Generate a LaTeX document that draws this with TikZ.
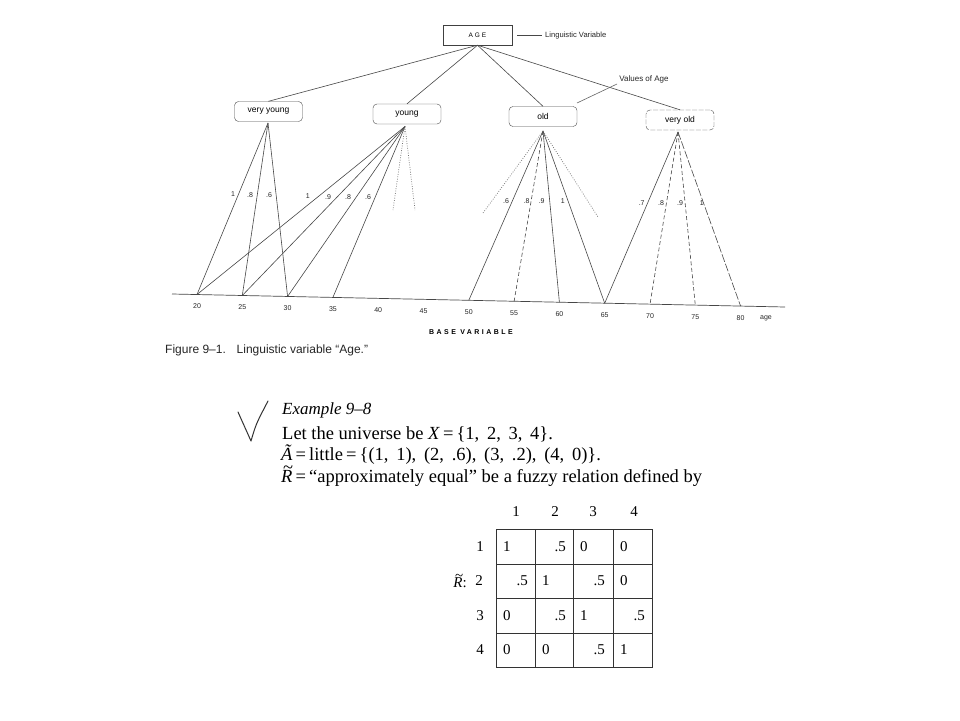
\documentclass[tikz,border=0pt]{standalone}
\usepackage{fontspec}
\setmainfont{Liberation Serif}
\setsansfont{Liberation Sans}
\newcommand\tildeit[1]{\leavevmode\setbox0\hbox{\textit{#1}}\rlap{\hbox to \wd0{\hss\hspace{0.15em}\raisebox{0.52em}{\textasciitilde}\hss}}\box0}
\begin{document}
\begin{tikzpicture}[x=1pt,y=-1pt,
  box/.style={draw=black!70, rounded corners=4pt, minimum width=68pt, minimum height=20pt, inner sep=0pt, font=\sffamily\fontsize{8.5}{9}\selectfont},
  ln/.style={draw=black!72, line width=0.6pt},
  dsh/.style={ln, dash pattern=on 4pt off 2.5pt},
  dotl/.style={draw=black!55, line width=0.7pt, dash pattern=on 0.8pt off 1.6pt},
  lbl/.style={font=\sffamily\fontsize{7}{8}\selectfont, inner sep=0pt, text=black!85},
  tick/.style={font=\sffamily\fontsize{7}{8}\selectfont, inner sep=0pt, text=black!85},
  ser/.style={font=\fontsize{18.5}{20}\selectfont, inner sep=0pt, anchor=west},
  cell/.style={font=\fontsize{15}{17}\selectfont, inner sep=0pt}
]
\useasboundingbox (0,0) rectangle (960,720);
\fill[white] (0,0) rectangle (960,720);

% ---- top of tree
\node[draw=black!75, minimum width=69pt, minimum height=20pt, inner sep=0pt,
      font=\sffamily\fontsize{6.5}{7}\selectfont\addfontfeature{LetterSpace=30}] (age) at (477.5,35) {AGE};
\coordinate (lvs) at (517,35.7);
\coordinate (lve) at (541.5,35.7);
\draw[ln] (lvs) -- (lve);
\node[lbl, anchor=west, font=\sffamily\fontsize{7.6}{8}\selectfont] (lv) at (545,36) {Linguistic Variable};

\node[box] (vy) at (268.5,111.5) {very young};
\node[box] (yg) at (407,114) {young};
\node[box] (od) at (543,116.5) {old};
\node[box, dash pattern=on 5pt off 1.5pt] (vo) at (680,120) {very old};

\draw[ln] (age.south) -- (vy.north);
\draw[ln] (age.south) -- (yg.north);
\draw[ln] (age.south) -- (od.north);
\draw[ln] (age.south) -- (vo.north);

\node[lbl, font=\sffamily\fontsize{8}{9}\selectfont] (voa) at (644,79) {Values of Age};
\coordinate (vq) at (617,84);
\coordinate (vp) at (577,103);
\draw[ln, black!60] (vq) -- (vp);

% ---- base axis
\coordinate (ax0) at (172,294);
\coordinate (ax1) at (785,307);
\draw[ln, line width=0.7pt] (ax0) -- (ax1);
\foreach \v [count=\i from 0] in {20,25,...,80} {
  \coordinate (t\v) at ({197+45.3*\i},{294.5+0.969*\i});
  \node[tick] (l\v) at ({197+45.3*\i},{306+0.969*\i}) {\v};
}
\node[tick, anchor=west] (lage) at (760,318) {age};
\node[font=\sffamily\bfseries\fontsize{7}{8}\selectfont\addfontfeature{LetterSpace=35}, inner sep=0pt] (bv) at (471,332) {BASE VARIABLE};
\node[font=\sffamily\fontsize{12}{14}\selectfont, anchor=west, inner sep=0pt, text=black!85] (cap) at (165,350) {Figure 9–1.\hspace{0.9em}Linguistic variable “Age.”};

% ---- apexes
\coordinate (avy) at (268,123);
\coordinate (ayg) at (405,126.5);
\coordinate (aod) at (543,131);
\coordinate (avo) at (678,132);

% very young
\draw[ln] (avy) -- (t20);
\draw[ln] (avy) -- (t25);
\draw[ln] (avy) -- (t30);
\node[lbl] (vy1) at (233,194) {1};
\node[lbl] (vy2) at (250,195) {.8};
\node[lbl] (vy3) at (269,195) {.6};

% young
\draw[ln] (ayg) -- (t20);
\draw[ln] (ayg) -- (t25);
\draw[ln] (ayg) -- (t30);
\draw[ln] (ayg) -- (t35);
\coordinate (yd1) at (393,210);
\coordinate (yd2) at (415,210);
\draw[dotl] (ayg) -- (yd1);
\draw[dotl] (ayg) -- (yd2);
\node[lbl] (yg1) at (307.7,196) {1};
\node[lbl] (yg2) at (328,196.7) {.9};
\node[lbl] (yg3) at (348,197) {.8};
\node[lbl] (yg4) at (368,197) {.6};

% old
\draw[ln] (aod) -- (t50);
\draw[dsh] (aod) -- (t55);
\draw[ln] (aod) -- (t60);
\draw[ln] (aod) -- (t65);
\coordinate (od1) at (483,213);
\coordinate (od2) at (598,217);
\draw[dotl] (aod) -- (od1);
\draw[dotl] (aod) -- (od2);
\node[lbl] (oa1) at (506,201) {.6};
\node[lbl] (oa2) at (526.7,201) {.8};
\node[lbl] (oa3) at (541.7,201) {.9};
\node[lbl] (oa4) at (562.7,201) {1};

% very old
\draw[ln] (avo) -- (t65);
\draw[dsh] (avo) -- (t70);
\draw[dsh] (avo) -- (t75);
\draw[ln, dash pattern=on 8pt off 2pt] (avo) -- (t80);
\node[lbl] (vo1) at (641.7,203) {.7};
\node[lbl] (vo2) at (661,203) {.8};
\node[lbl] (vo3) at (680,203) {.9};
\node[lbl] (vo4) at (701.7,203) {1};

% ---- example text
\coordinate (ck0) at (238,412);
\coordinate (ck1) at (251,441);
\coordinate (ck2) at (268,401);
\draw[black!80, line width=1pt, line cap=round, line join=round] (ck0) .. controls (244,426) .. (ck1) .. controls (256,424) .. (ck2);
\node[ser, font=\itshape\fontsize{17}{20}\selectfont] (ex) at (282,410) {Example 9–8};
\node[ser] (e1) at (282,434) {Let the universe be \textit{X}\,=\,\{1,\ \,2,\ \,3,\ \,4\}.};
\node[ser] (e2) at (281,455) {\textit{Ã}\,=\,little\,=\,\{(1,\ \,1),\ \,(2,\ \,.6),\ \,(3,\ \,.2),\ \,(4,\ \,0)\}.};
\node[ser] (e3) at (281,476) {\tildeit{R}\,=\,“approximately equal” be a fuzzy relation defined by};

% ---- matrix
\draw[black!80, line width=0.7pt] (496,529) rectangle (652.5,667);
\foreach \xx in {535,573.5,613} \draw[black!80, line width=0.7pt] (\xx,529) -- (\xx,667);
\foreach \yy in {564,598.5,633} \draw[black!80, line width=0.7pt] (496,\yy) -- (652.5,\yy);

\node[cell] (c1) at (516,512) {1};
\node[cell] (c2) at (555,512) {2};
\node[cell] (c3) at (593,512) {3};
\node[cell] (c4) at (634,512) {4};
\node[cell] (r1) at (480,547) {1};
\node[cell] (r2) at (479,581) {2};
\node[cell] (r3) at (480,616) {3};
\node[cell] (r4) at (480,650) {4};
\node[cell, anchor=east] (rl) at (467,581) {\tildeit{R}:};

\node[cell, anchor=west] (m11) at (503,547) {1};
\node[cell, anchor=east] (m12) at (566,547) {.5};
\node[cell, anchor=west] (m13) at (580,547) {0};
\node[cell, anchor=west] (m14) at (620,547) {0};

\node[cell, anchor=east] (m21) at (528,581) {.5};
\node[cell, anchor=west] (m22) at (542,581) {1};
\node[cell, anchor=east] (m23) at (605,581) {.5};
\node[cell, anchor=west] (m24) at (620,581) {0};

\node[cell, anchor=west] (m31) at (503,616) {0};
\node[cell, anchor=east] (m32) at (566,616) {.5};
\node[cell, anchor=west] (m33) at (580,616) {1};
\node[cell, anchor=east] (m34) at (645,616) {.5};

\node[cell, anchor=west] (m41) at (503,650) {0};
\node[cell, anchor=west] (m42) at (542,650) {0};
\node[cell, anchor=east] (m43) at (605,650) {.5};
\node[cell, anchor=west] (m44) at (620,650) {1};
\end{tikzpicture}
\end{document}
